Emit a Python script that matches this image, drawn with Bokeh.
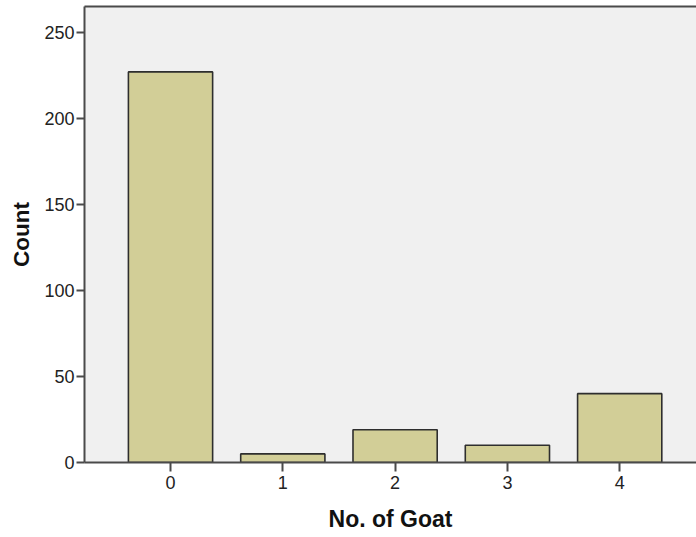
from bokeh.plotting import figure
from bokeh.models import FixedTicker, LinearAxis, Range1d
from bokeh.embed import file_html
from bokeh.resources import INLINE

categories = [0, 1, 2, 3, 4]
counts = [227, 5, 19, 10, 40]
y_ticks = [0, 50, 100, 150, 200, 250]

p = figure(width=696, height=537, output_backend="svg", toolbar_location=None,
           x_range=Range1d(-0.766, 4.684), y_range=Range1d(0, 265),
           min_border_left=84, min_border_right=0, min_border_top=6, min_border_bottom=75)

p.background_fill_color = "#F0F0F0"
p.border_fill_color = "white"
p.outline_line_color = None
p.grid.visible = False

p.vbar(x=categories, top=counts, width=0.75, bottom=0,
       fill_color="#D2CE97", line_color="#2e2e2e", line_width=1.6)

axis_color = "#4a4a4a"
font = "Liberation Sans"

xa = p.xaxis[0]
xa.ticker = FixedTicker(ticks=categories)
xa.axis_label = "No. of Goat"
xa.axis_label_text_font = font
xa.axis_label_text_font_size = "23px"
xa.axis_label_text_font_style = "bold"
xa.axis_label_text_color = "#111111"
xa.axis_label_standoff = 14
xa.major_label_text_font = font
xa.major_label_text_font_size = "18px"
xa.major_label_text_color = "#222222"
xa.major_label_standoff = 4
xa.axis_line_color = axis_color
xa.axis_line_width = 2
xa.major_tick_line_color = axis_color
xa.major_tick_line_width = 2
xa.major_tick_in = 0
xa.major_tick_out = 9
xa.minor_tick_line_color = None

ya = p.yaxis[0]
ya.ticker = FixedTicker(ticks=y_ticks)
ya.axis_label = "Count"
ya.axis_label_text_font = font
ya.axis_label_text_font_size = "22.5px"
ya.axis_label_text_font_style = "bold"
ya.axis_label_text_color = "#111111"
ya.axis_label_standoff = 7
ya.major_label_text_font = font
ya.major_label_text_font_size = "18px"
ya.major_label_text_color = "#222222"
ya.major_label_standoff = 2
ya.axis_line_color = axis_color
ya.axis_line_width = 2
ya.major_tick_line_color = axis_color
ya.major_tick_line_width = 2
ya.major_tick_in = 0
ya.major_tick_out = 8
ya.minor_tick_line_color = None

top_axis = LinearAxis(ticker=FixedTicker(ticks=[]), axis_line_color=axis_color,
                      axis_line_width=2, major_tick_line_color=None,
                      minor_tick_line_color=None, major_label_text_font_size="0px")
p.add_layout(top_axis, "above")

open("out.html", "w").write(file_html(p, INLINE))
